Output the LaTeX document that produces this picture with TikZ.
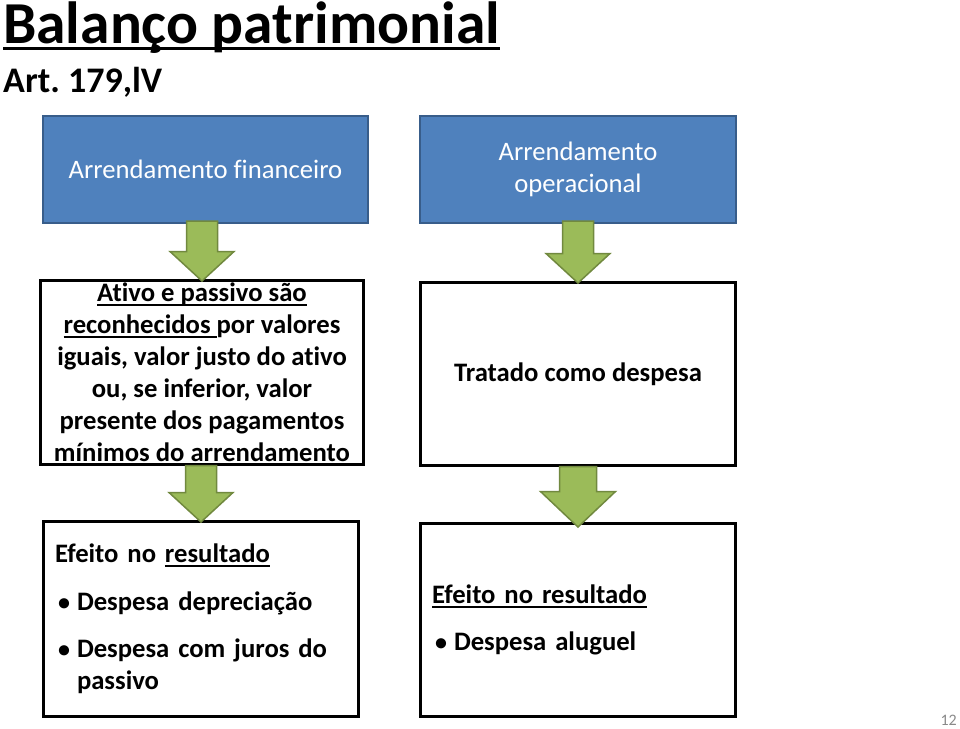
\documentclass[tikz,border=0pt]{standalone}
\usepackage{fontspec}
\setmainfont{Carlito}[Ligatures=NoCommon]
\usetikzlibrary{positioning, calc}
\frenchspacing

\definecolor{boxblue}{HTML}{4F81BD}
\definecolor{boxblueline}{HTML}{385D8A}
\definecolor{arrowgreen}{HTML}{9BBB59}
\definecolor{arrowgreenline}{HTML}{71893F}
\definecolor{pagegray}{HTML}{898989}

% underline at a fixed depth: {depth}{thickness}{text}
\newcommand{\sublinhar}[3]{\setbox0\hbox{#3}\rlap{\rule[-#1]{\wd0}{#2}}\box0}
\newcommand{\marca}{\hspace*{3pt}\makebox[19pt][l]{\raisebox{0.5pt}{\fontsize{24}{24}\selectfont\textbullet}}}

\begin{document}
\begin{tikzpicture}[x=1pt, y=-1pt,
    bluenode/.style={rectangle, draw=boxblueline, fill=boxblue, line width=2pt, outer sep=0pt, text=white, align=center, inner sep=0pt, font=\fontsize{26.67}{32}\selectfont},
    whitenode/.style={rectangle, draw=black, line width=3pt, outer sep=0pt, fill=white, inner sep=0pt, font=\bfseries\fontsize{26.67}{32}\selectfont},
    greenarrow/.style={fill=arrowgreen, draw=arrowgreenline, line width=1.5pt, line join=miter}
]
\useasboundingbox (0,0) rectangle (960,728);

\node[anchor=base west, inner sep=0pt, font=\bfseries\fontsize{59.5}{60}\selectfont](title) at (3,43){\sublinhar{7pt}{3pt}{Balanço patrimonial}};
\node[anchor=base west, inner sep=0pt, font=\bfseries\fontsize{36}{40}\selectfont](art) at (3,92){Art. 179,lV};

\node[bluenode, minimum width=325pt, minimum height=107pt, anchor=north west](fin) at (43,116){Arrendamento financeiro};
\node[bluenode, minimum width=316pt, minimum height=107pt, anchor=north west](op) at (420,116){Arrendamento\\operacional};

\node[whitenode, minimum width=323pt, minimum height=184pt, align=center](ativo)[below=57.5pt of fin, xshift=-3.5pt]{\sublinhar{4pt}{2pt}{Ativo e passivo são}\\
\sublinhar{4pt}{2pt}{reconhecidos\ }por valores\\
iguais, valor justo do ativo\\
ou, se inferior, valor\\
presente dos pagamentos\\
mínimos do arrendamento};
\node[whitenode, minimum width=315pt, minimum height=183pt, align=center](despesa)[below=59.5pt of op]{Tratado como despesa};

\node[whitenode, minimum width=315pt, minimum height=195pt, inner xsep=11.5pt, text width=292pt, align=left](efeito)[below=57pt of ativo, xshift=-1pt]{Efeito no \sublinhar{4pt}{2pt}{resultado}\\[16pt]
\marca Despesa depreciação\\[15pt]
\marca Despesa com juros do\\
\hspace*{22pt}passivo};
\node[whitenode, minimum width=315pt, minimum height=193pt, inner xsep=11.5pt, text width=292pt, align=left](aluguel)[below=58pt of despesa]{\sublinhar{4pt}{2pt}{Efeito no resultado}\\[15pt]
\marca Despesa aluguel};

\draw[greenarrow] let \p1=(fin.south), \p2=(ativo.north) in (\x2-15.5pt,\y1+2pt) -- (\x2+15.5pt,\y1+2pt) -- (\x2+15.5pt,\y2+29pt) -- (\x2+32pt,\y2+29pt) -- (\x2,\y2-0.5pt) -- (\x2-32pt,\y2+29pt) -- (\x2-15.5pt,\y2+29pt) -- cycle;
\draw[greenarrow] let \p1=(op.south), \p2=(despesa.north) in (\x2-15.5pt,\y1+2pt) -- (\x2+15.5pt,\y1+2pt) -- (\x2+15.5pt,\y2+29pt) -- (\x2+32pt,\y2+29pt) -- (\x2,\y2-0.5pt) -- (\x2-32pt,\y2+29pt) -- (\x2-15.5pt,\y2+29pt) -- cycle;
\draw[greenarrow] let \p1=(ativo.south), \p2=(efeito.north) in (\x2-15.5pt,\y1-1pt) -- (\x2+15.5pt,\y1-1pt) -- (\x2+15.5pt,\y2+29pt) -- (\x2+32pt,\y2+29pt) -- (\x2,\y2-0.5pt) -- (\x2-32pt,\y2+29pt) -- (\x2-15.5pt,\y2+29pt) -- cycle;
\draw[greenarrow, xshift=-6.5pt] let \p1=(despesa.south), \p2=(aluguel.north) in (\x2-18.5pt,\y1-1pt) -- (\x2+18.5pt,\y1-1pt) -- (\x2+18.5pt,\y2+32pt) -- (\x2+37.5pt,\y2+32pt) -- (\x2,\y2-3.5pt) -- (\x2-37.5pt,\y2+32pt) -- (\x2-18.5pt,\y2+32pt) -- cycle;

\node[anchor=base east, inner sep=0pt, text=pagegray, font=\fontsize{16}{18}\selectfont](pagina) at (957,725){12};
\end{tikzpicture}
\end{document}
